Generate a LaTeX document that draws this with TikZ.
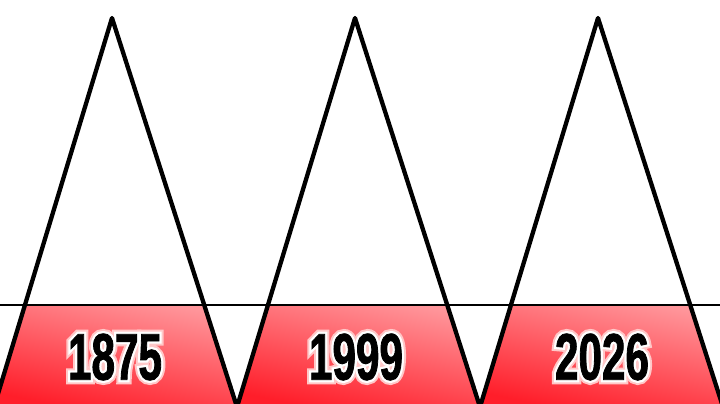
\documentclass[tikz,border=0pt]{standalone}
\usepackage{fontspec}
\newfontfamily\numfont[FakeStretch=0.64,FakeBold=1.2]{Liberation Sans}
\newfontfamily\numwhite[FakeStretch=0.64,FakeBold=8]{Liberation Sans}
\newfontfamily\numpink[FakeStretch=0.64,FakeBold=14]{Liberation Sans}
\usetikzlibrary{calc}
\definecolor{topred}{RGB}{255,150,155}
\definecolor{botred}{RGB}{255,30,42}
\definecolor{glowpink}{RGB}{255,200,200}
\tikzset{
  zig/.style={line width=4.3pt, line join=round, draw=black},
  baseline line/.style={line width=1.4pt, draw=black},
  yearsize/.style={inner sep=0pt, font=\bfseries\fontsize{66}{66}\selectfont},
  year/.style={yearsize, font=\numfont\bfseries\fontsize{66}{66}\selectfont, text=black},
  halo/.style={yearsize, font=\numwhite\bfseries\fontsize{66}{66}\selectfont, text=white},
  outerhalo/.style={yearsize, font=\numpink\bfseries\fontsize{66}{66}\selectfont, text=glowpink},
  trap/.style={top color=topred, bottom color=botred, shading angle=-12}
}
\begin{document}
\begin{tikzpicture}[x=1pt,y=-1pt]
\fill[white] (0,0) rectangle (720,404);
\useasboundingbox (0,0) rectangle (720,404);
\begin{scope}
\clip (-6,407) -- (112,18) -- (237,407) -- cycle;
\fill[trap] (-6,305) rectangle (237,404);
\end{scope}
\begin{scope}
\clip (237,407) -- (355,18) -- (480,407) -- cycle;
\fill[trap] (237,305) rectangle (480,404);
\end{scope}
\begin{scope}
\clip (480,407) -- (598,18) -- (723,407) -- cycle;
\fill[trap] (480,305) rectangle (723,404);
\end{scope}
\draw[baseline line] (0,305) -- (720,305);
\begin{scope}
\clip (0,0) rectangle (720,404);
\draw[zig] (-6,407) -- (112,18) -- (237,407) -- (355,18) -- (480,407) -- (598,18) -- (723,407);
\end{scope}
\foreach \p/\t in {115/1875,356/1999,602/2026}{
  \node[outerhalo] at (\p,357) {\t};
  \node[halo] at (\p,357) {\t};
}
\node[year] (y1) at (115,357) {1875};
\node[year] (y2) at (356,357) {1999};
\node[year] (y3) at (602,357) {2026};
\end{tikzpicture}
\end{document}
